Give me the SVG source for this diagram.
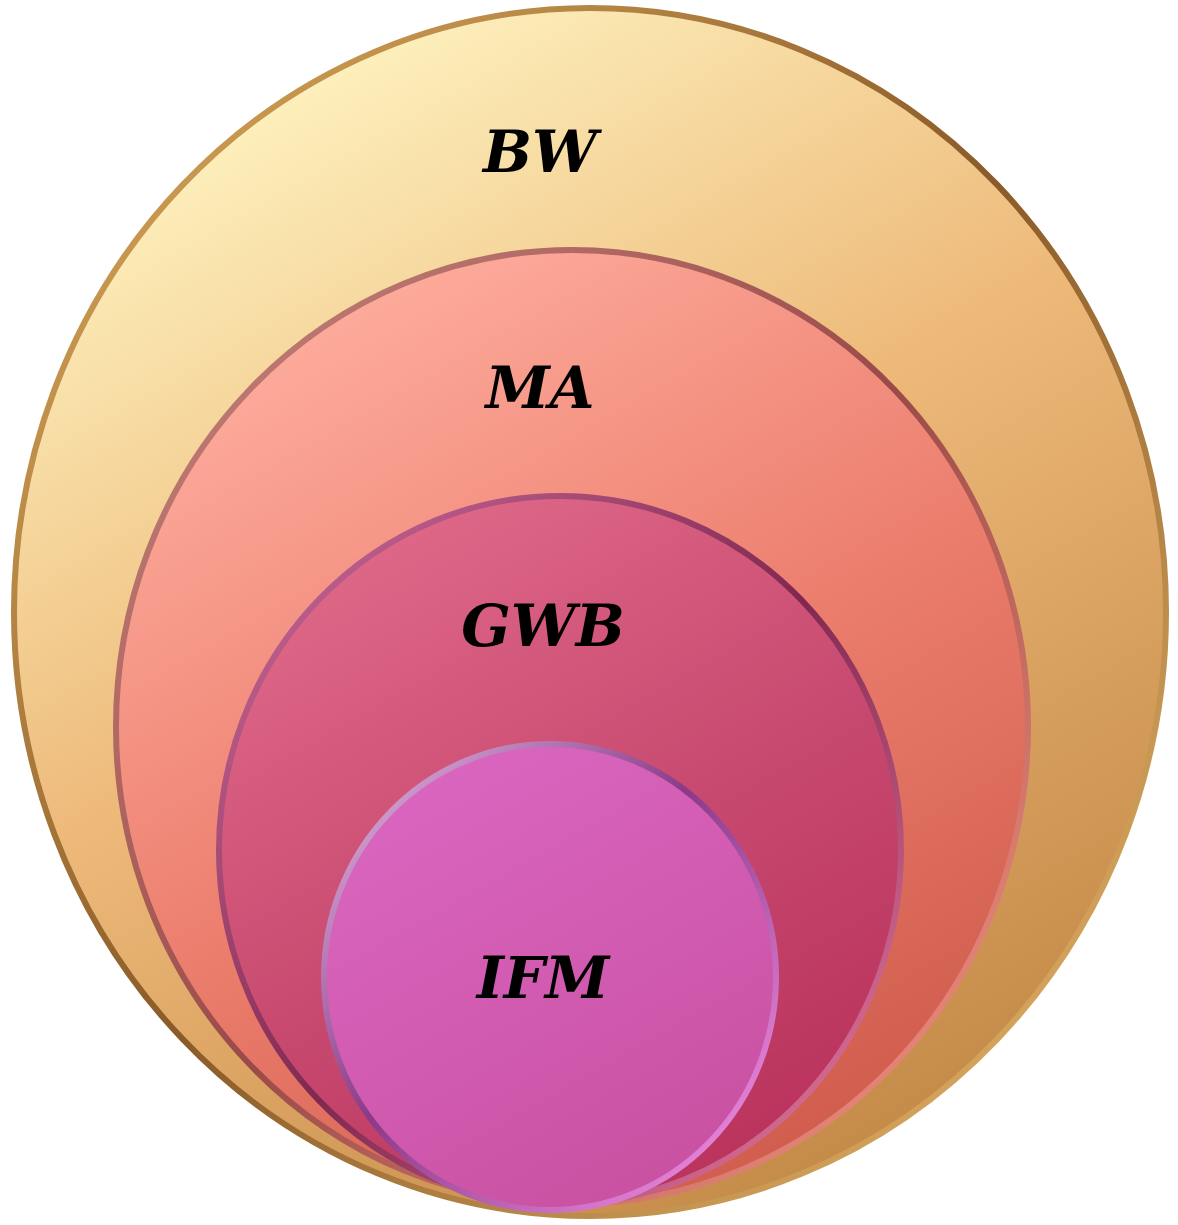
<svg xmlns="http://www.w3.org/2000/svg" width="1178" height="1225" viewBox="0 0 1178 1225">
<defs>
<linearGradient id="gBW" x1="0.25" y1="0" x2="0.8" y2="1">
<stop offset="0" stop-color="#FFF6C4"/><stop offset="0.45" stop-color="#EDB878"/><stop offset="1" stop-color="#BF8442"/>
</linearGradient>
<linearGradient id="sBW" x1="0" y1="0" x2="1" y2="1">
<stop offset="0" stop-color="#E0B060"/><stop offset="0.5" stop-color="#8A5A28"/><stop offset="1" stop-color="#F0C070"/>
</linearGradient>
<linearGradient id="gMA" x1="0.25" y1="0" x2="0.8" y2="1">
<stop offset="0" stop-color="#FFAFA0"/><stop offset="0.5" stop-color="#EC7E6E"/><stop offset="1" stop-color="#CC5848"/>
</linearGradient>
<linearGradient id="sMA" x1="0" y1="0" x2="1" y2="1">
<stop offset="0" stop-color="#C88880"/><stop offset="0.5" stop-color="#9A4A48"/><stop offset="1" stop-color="#FF9A88"/>
</linearGradient>
<linearGradient id="gGWB" x1="0.25" y1="0" x2="0.8" y2="1">
<stop offset="0" stop-color="#E06A8A"/><stop offset="0.5" stop-color="#C84A70"/><stop offset="1" stop-color="#B8305A"/>
</linearGradient>
<linearGradient id="sGWB" x1="0" y1="0" x2="1" y2="1">
<stop offset="0" stop-color="#D070A0"/><stop offset="0.5" stop-color="#802850"/><stop offset="1" stop-color="#F080A8"/>
</linearGradient>
<linearGradient id="gIFM" x1="0.25" y1="0" x2="0.8" y2="1">
<stop offset="0" stop-color="#DA66C0"/><stop offset="1" stop-color="#C850A0"/>
</linearGradient>
<linearGradient id="sIFM" x1="0" y1="0" x2="1" y2="1">
<stop offset="0" stop-color="#E8C0E8"/><stop offset="0.45" stop-color="#8A3A88"/><stop offset="1" stop-color="#FF98F0"/>
</linearGradient>
<style>
.lbl{font-family:"DejaVu Serif","Liberation Serif",serif;font-weight:bold;font-style:italic;font-size:58px;fill:#000;text-anchor:middle}
</style>
</defs>
<g id="BW">
<ellipse cx="590" cy="612" rx="576" ry="604" fill="url(#gBW)" stroke="url(#sBW)" stroke-width="6"/>
<text class="lbl" x="540" y="172">BW</text>
</g>
<g id="MA">
<ellipse cx="572" cy="727" rx="456" ry="477" fill="url(#gMA)" stroke="url(#sMA)" stroke-width="6"/>
<text class="lbl" x="540" y="408">MA</text>
</g>
<g id="GWB">
<ellipse cx="560" cy="850" rx="341" ry="354" fill="url(#gGWB)" stroke="url(#sGWB)" stroke-width="6"/>
<text class="lbl" x="543" y="646">GWB</text>
</g>
<g id="IFM">
<ellipse cx="550" cy="977" rx="226" ry="233" fill="url(#gIFM)" stroke="url(#sIFM)" stroke-width="6"/>
<text class="lbl" x="543" y="998">IFM</text>
</g>
<g id="connectors"/>
</svg>
